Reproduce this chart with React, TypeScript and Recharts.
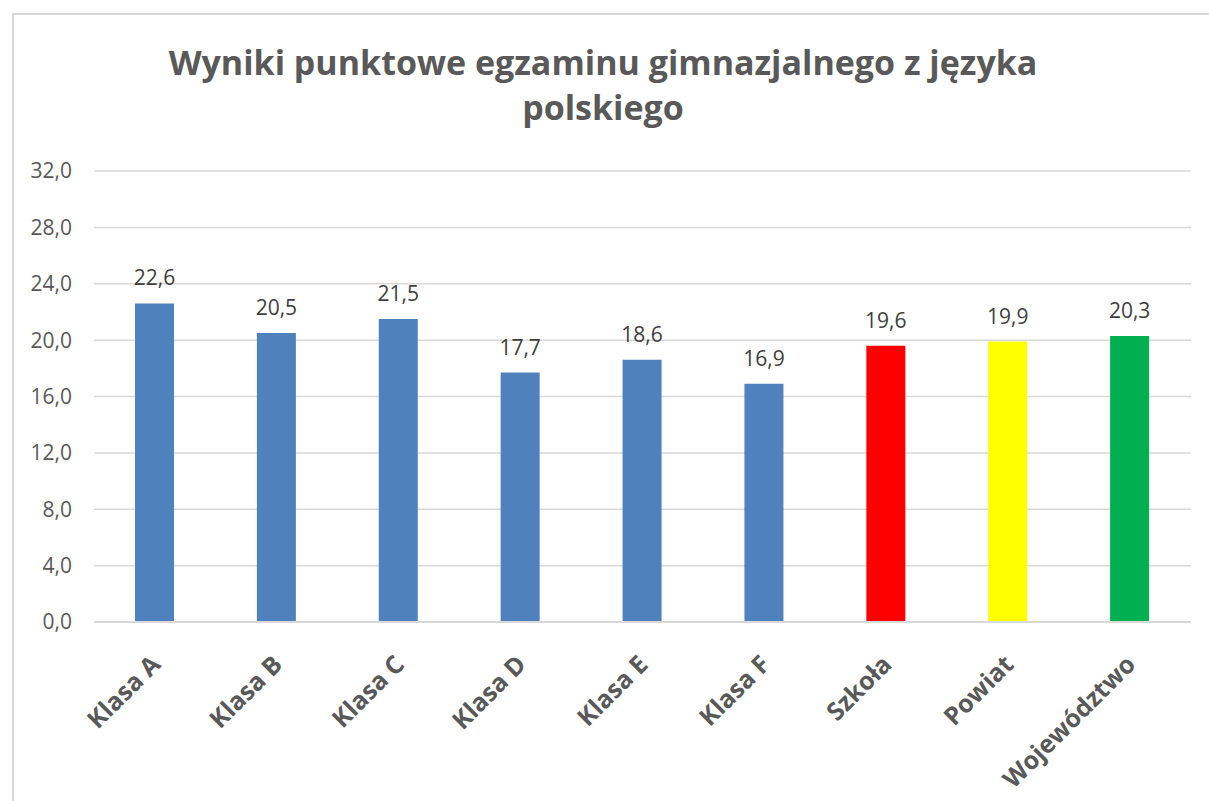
import React from 'react';
import { BarChart, Bar, XAxis, YAxis, CartesianGrid, Cell, LabelList } from 'recharts';

const categories = ['Klasa A', 'Klasa B', 'Klasa C', 'Klasa D', 'Klasa E', 'Klasa F', 'Szkoła', 'Powiat', 'Województwo'];
const scores = [22.6, 20.5, 21.5, 17.7, 18.6, 16.9, 19.6, 19.9, 20.3];
const barColors = ['#4f81bd', '#4f81bd', '#4f81bd', '#4f81bd', '#4f81bd', '#4f81bd', '#ff0000', '#ffff00', '#00b050'];
const yTicks = [0, 4, 8, 12, 16, 20, 24, 28, 32];

const data = categories.map((name, i) => ({ name, score: scores[i] }));

const fmt = (v: number) => v.toFixed(1).replace('.', ',');

const FONT = '"Open Sans", "Liberation Sans", sans-serif';

const RotatedTick = ({ x, y, payload }: any) => (
  <g transform={`translate(${x + 7},${y + 36})`}>
    <text
      transform="rotate(-45)"
      textAnchor="end"
      fill="#595959"
      fontSize={25}
      fontWeight="bold"
      fontFamily={FONT}
    >
      {payload.value}
    </text>
  </g>
);

export default function App() {
  return (
    <div style={{ position: 'absolute', left: 0, top: 0, width: 1209, height: 801, background: '#fff', overflow: 'hidden', fontFamily: FONT }}>
      <div style={{ position: 'absolute', left: 12, top: 13, width: 1300, height: 900, borderLeft: '2px solid #d9d9d9', borderTop: '2px solid #d9d9d9' }} />
      <div
        style={{
          position: 'absolute',
          left: 0,
          top: 40,
          width: 1206,
          textAlign: 'center',
          fontSize: 34,
          lineHeight: '45px',
          fontWeight: 'bold',
          color: '#595959',
        }}
      >
        Wyniki punktowe egzaminu gimnazjalnego z języka
        <br />
        polskiego
      </div>
      <div style={{ position: 'absolute', left: 0, top: 0 }}>
        <BarChart width={1209} height={801} data={data} margin={{ top: 171, right: 18, bottom: 29, left: 0 }}>
          <CartesianGrid vertical={false} stroke="#d9d9d9" strokeWidth={1.5} />
          <XAxis
            dataKey="name"
            interval={0}
            height={150}
            tickLine={false}
            axisLine={{ stroke: '#d9d9d9', strokeWidth: 2 }}
            tick={<RotatedTick />}
          />
          <YAxis
            width={94}
            domain={[0, 32]}
            ticks={yTicks}
            tickFormatter={fmt}
            tickLine={false}
            axisLine={false}
            tickSize={0}
            tickMargin={22}
            tick={{ fill: '#595959', fontSize: 21, fontFamily: FONT }}
          />
          <Bar dataKey="score" barSize={39} isAnimationActive={false}>
            {data.map((d, i) => (
              <Cell key={d.name} fill={barColors[i]} />
            ))}
            <LabelList
              dataKey="score"
              position="top"
              offset={18}
              formatter={(v: any) => fmt(Number(v))}
              fill="#404040"
              fontSize={21}
              fontFamily={FONT}
            />
          </Bar>
        </BarChart>
      </div>
    </div>
  );
}
